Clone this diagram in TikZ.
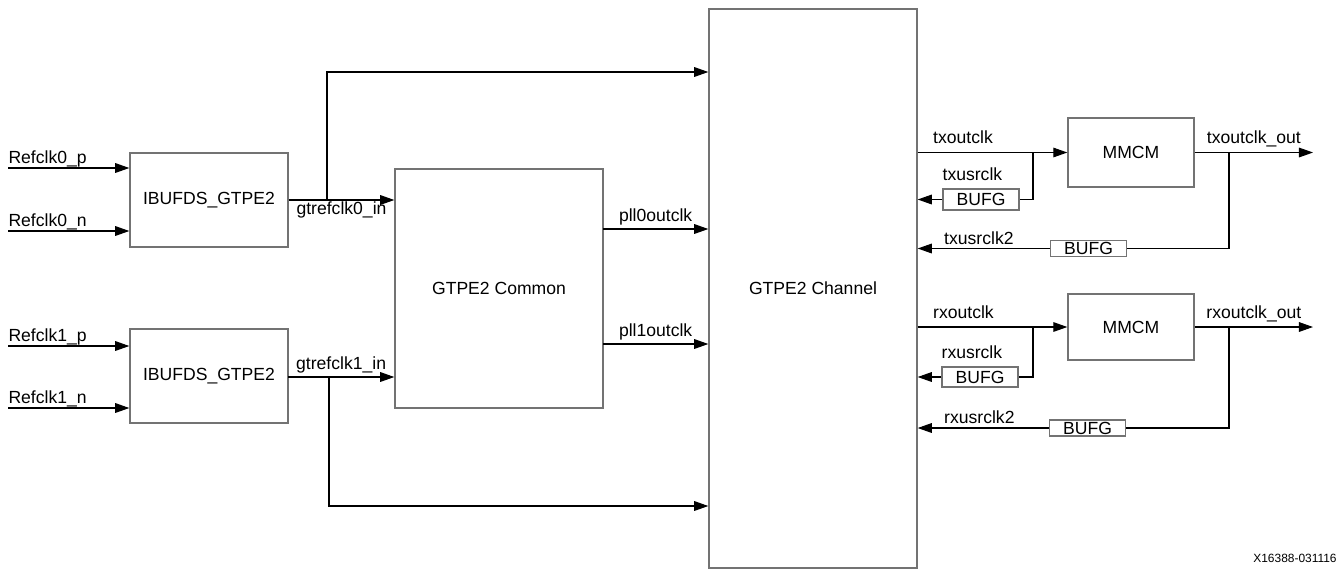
\documentclass[tikz,border=0pt]{standalone}
\usepackage{fontspec}
\setmainfont{Liberation Sans}
\usetikzlibrary{arrows.meta}

\begin{document}
\begin{tikzpicture}[
    block/.style={rectangle, draw=black!55, line width=0.8pt, fill=white, inner sep=0pt, font=\fontsize{10}{12}\selectfont},
    bufg/.style={block, minimum width=1.52cm, minimum height=0.32cm},
    wire/.style={line width=0.6pt},
    arrow/.style={wire, -{Triangle[length=8pt,width=5.5pt]}},
    lbl/.style={inner sep=0pt, font=\fontsize{10}{12}\selectfont}
]
\useasboundingbox (0,0) rectangle (26.76,-11.42);

% blocks
\node[block, minimum width=3.16cm, minimum height=1.88cm] (ibuf0) at (4.18,-4.00) {IBUFDS\_GTPE2};
\node[block, minimum width=3.16cm, minimum height=1.88cm] (ibuf1) at (4.18,-7.52) {IBUFDS\_GTPE2};
\node[block, minimum width=4.16cm, minimum height=4.78cm] (common) at (9.98,-5.77) {GTPE2 Common};
\node[block, minimum width=4.16cm, minimum height=11.18cm] (chan) at (16.26,-5.77) {GTPE2 Channel};
\node[block, minimum width=2.52cm, minimum height=1.38cm] (mmcm0) at (22.62,-3.05) {MMCM};
\node[block, minimum width=2.52cm, minimum height=1.32cm] (mmcm1) at (22.62,-6.54) {MMCM};
\node[bufg, minimum height=0.42cm] (bt1) at (19.62,-3.99) {BUFG};
\node[bufg] (bt2) at (21.77,-4.97) {BUFG};
\node[bufg, minimum height=0.40cm] (br1) at (19.60,-7.54) {BUFG};
\node[bufg] (br2) at (21.75,-8.56) {BUFG};

% free ends and branch points
\coordinate (rp0) at (0.16,-3.36);
\coordinate (rn0) at (0.16,-4.62);
\coordinate (rp1) at (0.16,-6.92);
\coordinate (rn1) at (0.16,-8.16);
\coordinate (g1) at (5.76,-7.54);
\coordinate (j0) at (6.54,-4.00);
\coordinate (up0) at (6.54,-1.44);
\coordinate (j1) at (6.58,-7.54);
\coordinate (dn1) at (6.58,-10.12);
\coordinate (p0) at (12.06,-4.58);
\coordinate (p1) at (12.06,-6.88);
\coordinate (jt) at (20.66,-3.05);
\coordinate (jto) at (24.58,-3.05);
\coordinate (to0) at (26.26,-3.05);
\coordinate (jr) at (20.66,-6.54);
\coordinate (jro) at (24.58,-6.54);
\coordinate (ro0) at (26.26,-6.54);

% reference clocks
\draw[arrow] (rp0) -- node[lbl, pos=0, anchor=base west, yshift=2.5pt] {Refclk0\_p} (ibuf0.west |- rp0);
\draw[arrow] (rn0) -- node[lbl, pos=0, anchor=base west, yshift=2.5pt] {Refclk0\_n} (ibuf0.west |- rn0);
\draw[arrow] (rp1) -- node[lbl, pos=0, anchor=base west, yshift=2.5pt] {Refclk1\_p} (ibuf1.west |- rp1);
\draw[arrow] (rn1) -- node[lbl, pos=0, anchor=base west, yshift=2.5pt] {Refclk1\_n} (ibuf1.west |- rn1);

% gtrefclk
\draw[arrow] (ibuf0.east) -- node[lbl, anchor=base, yshift=-8pt] {gtrefclk0\_in} (common.west |- ibuf0.east);
\draw[arrow] (j0) |- (chan.west |- up0);
\draw[arrow] (g1) -- node[lbl, anchor=base, yshift=4pt] {gtrefclk1\_in} (common.west |- g1);
\draw[arrow] (j1) |- (chan.west |- dn1);

% pll clocks
\draw[arrow] (p0) -- node[lbl, anchor=base, yshift=4pt] {pll0outclk} (chan.west |- p0);
\draw[arrow] (p1) -- node[lbl, anchor=base, yshift=4pt] {pll1outclk} (chan.west |- p1);

% tx clocking
\draw[arrow] (chan.east |- mmcm0) -- node[lbl, pos=0, anchor=base west, xshift=0.3cm, yshift=5pt] {txoutclk} (mmcm0.west);
\draw[wire] (jt) |- (bt1.east);
\draw[arrow] (bt1.west) -- (chan.east |- bt1.west);
\node[lbl, anchor=base west, yshift=4.5pt] (txu) at (bt1.north west) {txusrclk};
\draw[arrow] (mmcm0.east) -- node[lbl, anchor=base, yshift=5pt] {txoutclk\_out} (to0);
\draw[wire] (jto) |- (bt2.east);
\draw[arrow] (bt2.west) -- node[lbl, pos=1, anchor=base west, xshift=0.52cm, yshift=2.5pt] {txusrclk2} (chan.east |- bt2.west);

% rx clocking
\draw[arrow] (chan.east |- mmcm1) -- node[lbl, pos=0, anchor=base west, xshift=0.3cm, yshift=5pt] {rxoutclk} (mmcm1.west);
\draw[wire] (jr) |- (br1.east);
\draw[arrow] (br1.west) -- (chan.east |- br1.west);
\node[lbl, anchor=base west, yshift=4.5pt] (rxu) at (br1.north west) {rxusrclk};
\draw[arrow] (mmcm1.east) -- node[lbl, anchor=base, yshift=5pt] {rxoutclk\_out} (ro0);
\draw[wire] (jro) |- (br2.east);
\draw[arrow] (br2.west) -- node[lbl, pos=1, anchor=base west, xshift=0.52cm, yshift=2.5pt] {rxusrclk2} (chan.east |- br2.west);

\node[inner sep=0pt, anchor=base west, font=\fontsize{6.8}{8}\selectfont] (figid) at (25.06,-11.24) {X16388-031116};
\end{tikzpicture}
\end{document}
